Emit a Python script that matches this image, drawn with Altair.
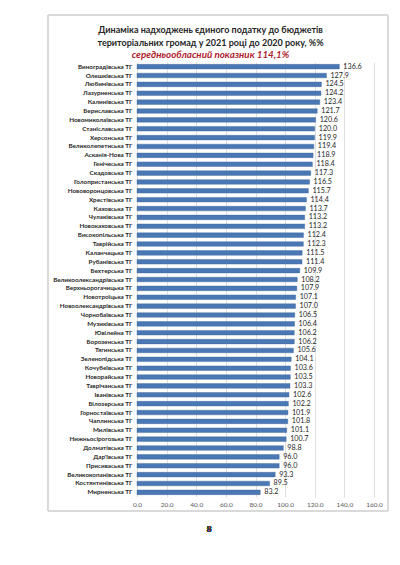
import altair as alt
import pandas as pd

communities = [
    "Виноградівська ТГ", "Олешківська ТГ", "Любимівська ТГ", "Лазурненська ТГ",
    "Калинівська ТГ", "Бериславська ТГ", "Новомиколаївська ТГ", "Станіславська ТГ",
    "Херсонська ТГ", "Великолепетиська ТГ", "Асканія-Нова ТГ", "Генічеська ТГ",
    "Скадовська ТГ", "Голопристанська ТГ", "Нововоронцовська ТГ", "Хрестівська ТГ",
    "Каховська ТГ", "Чулаківська ТГ", "Новокаховська ТГ", "Високопільська ТГ",
    "Таврійська ТГ", "Каланчацька ТГ", "Рубанівська ТГ", "Бехтерська ТГ",
    "Великоолександрівська ТГ", "Верхньорогачицька ТГ", "Новотроїцька ТГ",
    "Новоолександрівська ТГ", "Чорнобаївська ТГ", "Музиківська ТГ", "Ювілейна ТГ",
    "Борозенська ТГ", "Тягинська ТГ", "Зеленопідська ТГ", "Кочубеївська ТГ",
    "Новорайська ТГ", "Таврічанська ТГ", "Іванівська ТГ", "Білозерська ТГ",
    "Горностаївська ТГ", "Чаплинська ТГ", "Милівська ТГ", "Нижньосірогозька ТГ",
    "Долматівська ТГ", "Дар'ївська ТГ", "Присиваська ТГ", "Великокопанівська ТГ",
    "Костянтинівська ТГ", "Мирненська ТГ",
]
values = [
    136.6, 127.9, 124.5, 124.2, 123.4, 121.7, 120.6, 120.0, 119.9, 119.4,
    118.9, 118.4, 117.3, 116.5, 115.7, 114.4, 113.7, 113.2, 113.2, 112.4,
    112.3, 111.5, 111.4, 109.9, 108.2, 107.9, 107.1, 107.0, 106.5, 106.4,
    106.2, 106.2, 105.6, 104.1, 103.6, 103.5, 103.3, 102.6, 102.2, 101.9,
    101.8, 101.1, 100.7, 98.8, 96.0, 96.0, 93.3, 89.5, 83.2,
]
x_ticks = [0, 20, 40, 60, 80, 100, 120, 140, 160]
title_lines = [
    "Динаміка надходжень єдиного податку до бюджетів",
    "територіальних громад у 2021 році до 2020 року, %%",
]
subtitle_text = "середньообласний показник 114,1%"
page_number = "8"

df = pd.DataFrame({"name": communities, "value": values})
df["label"] = df["value"].map(lambda v: f"{v:.1f}")

FONT = "Lato"

y_enc = alt.Y(
    "name:N",
    sort=None,
    title=None,
    scale=alt.Scale(paddingInner=0.45, paddingOuter=0.25),
    axis=alt.Axis(
        labelFont=FONT, labelFontSize=6.3, labelFontWeight="bold",
        labelColor="#262626", ticks=False, domain=False, labelPadding=5,
        labelLimit=200, labelOverlap=False,
    ),
)
x_enc = alt.X(
    "value:Q",
    title=None,
    scale=alt.Scale(domain=[0, 160], nice=False),
    axis=alt.Axis(
        values=x_ticks, format=".1f", labelFont=FONT, labelFontSize=6.5,
        labelColor="#595959", grid=True, gridColor="#d9d9d9", gridWidth=0.8,
        domain=False, ticks=False, labelPadding=4, labelOverlap=False,
        labelFlush=False,
    ),
)

bars = alt.Chart(df).mark_bar(
    color="#4a78b4", stroke="#3d6699", strokeWidth=0.4, size=4.6
).encode(x=x_enc, y=y_enc)

labels = alt.Chart(df).mark_text(
    align="left", baseline="middle", dx=4, font=FONT, fontSize=7.2,
    color="#262626",
).encode(x=x_enc, y=y_enc, text="label:N")

frame = alt.Chart(df).mark_rect(
    fill=None, stroke="#d9d9d9", strokeWidth=0.8, clip=False
).encode(
    x=alt.value(-89), x2=alt.value(251), y=alt.value(-47), y2=alt.value(449)
)

page = alt.Chart(df).mark_text(
    font=FONT, fontSize=8, color="#404040", clip=False
).encode(x=alt.value(72), y=alt.value(468), text=alt.value(page_number))

chart = (
    alt.layer(frame, bars, labels, page)
    .properties(
        width=237,
        height=435,
        autosize=alt.AutoSizeParams(type="none"),
        padding={"left": 129, "top": 54, "right": 18, "bottom": 50},
        title=alt.TitleParams(
            text=title_lines,
            subtitle=subtitle_text,
            font=FONT, fontSize=9, fontWeight="bold", color="#262626",
            lineHeight=13,
            subtitleFont=FONT, subtitleFontSize=9.8, subtitleFontWeight="bold",
            subtitleFontStyle="italic", subtitleColor="#b01c2e",
            subtitlePadding=2, anchor="middle", frame="group", dx=-45,
            offset=-45,
        ),
    )
    .configure_view(stroke=None)
)

chart.save("out.html", embed_options={"renderer": "svg", "actions": False})
